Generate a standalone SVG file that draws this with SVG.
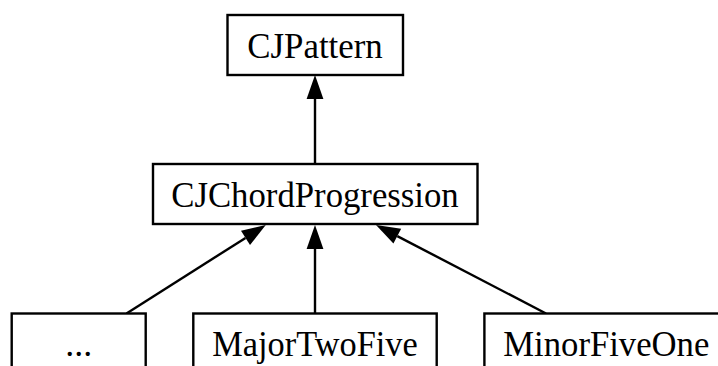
<svg xmlns="http://www.w3.org/2000/svg" width="718" height="366" viewBox="0 0 718 366">
<style>
.box{fill:#fff;stroke:#000;stroke-width:2.4}
.lbl{font-family:"Liberation Serif","Times New Roman",serif;font-size:36px;fill:#000;text-anchor:middle}
.edge{fill:none;stroke:#000;stroke-width:2.4}
</style>
<defs>
<marker id="ah" markerUnits="userSpaceOnUse" markerWidth="26" markerHeight="20" viewBox="0 -10 26 20" refX="0" refY="0" orient="auto" overflow="visible">
<path d="M0,-8.4 L24,0 L0,8.4 Z" fill="#000"/>
</marker>
</defs>
<rect width="718" height="366" fill="#fff"/>
<g id="connectors">
<path class="edge" d="M315,164 L315,99" marker-end="url(#ah)"/>
<path class="edge" d="M126.5,313.5 L245.5,237.9" marker-end="url(#ah)"/>
<path class="edge" d="M315,313.5 L315,249" marker-end="url(#ah)"/>
<path class="edge" d="M546,313.5 L397.3,236.1" marker-end="url(#ah)"/>
</g>
<g id="CJPattern">
<rect class="box" x="227.5" y="15" width="175.5" height="60"/>
<text class="lbl" x="315" y="57.5" textLength="135.5" lengthAdjust="spacingAndGlyphs">CJPattern</text>
</g>
<g id="CJChordProgression">
<rect class="box" x="153" y="164" width="324.5" height="60"/>
<text class="lbl" x="315" y="206.5" textLength="287.5" lengthAdjust="spacingAndGlyphs">CJChordProgression</text>
</g>
<g id="Ellipsis">
<rect class="box" x="11.7" y="313.5" width="134" height="60"/>
<text class="lbl" x="78.7" y="355.5">...</text>
</g>
<g id="MajorTwoFive">
<rect class="box" x="193.3" y="313.5" width="243.4" height="60"/>
<text class="lbl" x="315" y="355.5" textLength="205.6" lengthAdjust="spacingAndGlyphs">MajorTwoFive</text>
</g>
<g id="MinorFiveOne">
<rect class="box" x="484.4" y="313.5" width="243.6" height="60"/>
<text class="lbl" x="606.3" y="355.5" textLength="206" lengthAdjust="spacingAndGlyphs">MinorFiveOne</text>
</g>
</svg>
